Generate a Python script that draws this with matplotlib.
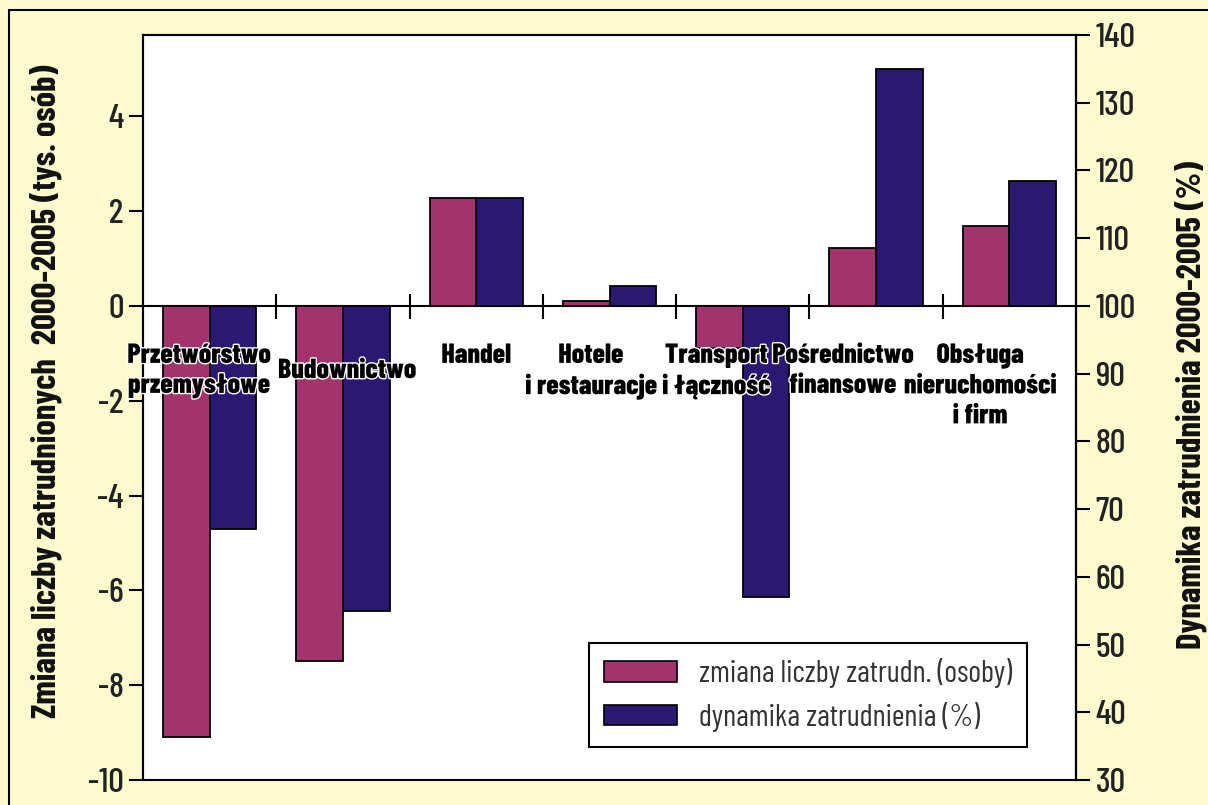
import numpy as np
import matplotlib
matplotlib.use("Agg")
import matplotlib.pyplot as plt
import matplotlib.patheffects as pe
from matplotlib.patches import Rectangle, Patch

# ---- data ----
categories = [
    "Przetwórstwo\nprzemysłowe",
    "Budownictwo",
    "Handel",
    "Hotele\ni restauracje",
    "Transport\ni łączność",
    "Pośrednictwo\nfinansowe",
    "Obsługa\nnieruchomości\ni firm",
]
zmiana = [-9.1, -7.5, 2.27, 0.1, -0.88, 1.22, 1.68]          # tys. osób (left axis)
dynamika = [67.0, 55.0, 116.0, 103.0, 57.0, 135.0, 118.5]     # % (right axis)

# label placement tweaks (category units / left-axis units)
label_dx = [-0.08, 0.03, 0.0, -0.14, -0.2, -0.25, -0.22]
label_dy = [0.0, -0.32, 0.0, 0.0, 0.0, 0.0, 0.0]

C_PINK = "#A3336C"
C_NAVY = "#2B1872"
BG = "#FFFACD"
NARROW = ["Barlow Condensed", "Archivo Narrow", "DejaVu Sans"]

plt.rcParams["font.family"] = NARROW
plt.rcParams["axes.unicode_minus"] = False

fig = plt.figure(figsize=(12.08, 8.05), dpi=100, facecolor=BG)
W, H = 1208, 805
ax = fig.add_axes([143 / W, 1 - 780 / H, (1076 - 143) / W, (780 - 35) / H])
ax2 = ax.twinx()

x = np.arange(len(categories))
bw = 0.35
ax.bar(x - bw / 2, zmiana, bw, color=C_PINK, edgecolor="black", lw=1.3, zorder=3)
ax2.bar(x + bw / 2, np.array(dynamika) - 100, bw, bottom=100, color=C_NAVY,
        edgecolor="black", lw=1.3, zorder=3)

ax.set_xlim(-0.5, len(categories) - 0.5)
ax.set_ylim(-10, 40 / 7)
ax2.set_ylim(30, 140)
ax.set_yticks(np.arange(-10, 5, 2))
ax2.set_yticks(np.arange(30, 141, 10))

# category axis crossing at zero, ticks between groups
ax.spines["bottom"].set_position(("data", 0))
ax.set_xticks(np.arange(0.5, len(categories) - 0.5))
ax.set_xticklabels([])
ax.tick_params(axis="x", direction="inout", length=18, width=1.5)
for a in (ax, ax2):
    a.tick_params(axis="y", direction="out", length=10, width=1.5, labelsize=25,
                  labelcolor="#222222", pad=4)
    for t in a.get_yticklabels():
        t.set_fontweight(500)
for s in ax.spines.values():
    s.set_linewidth(1.5)
for s in ["left", "bottom", "top"]:
    ax2.spines[s].set_visible(False)
ax2.spines["right"].set_linewidth(1.5)
ax.add_patch(Rectangle((0, 0), 1, 1, transform=ax.transAxes, fill=False,
                       lw=1.5, ec="black", zorder=5, clip_on=False))

halo = [pe.withStroke(linewidth=2, foreground="white")]
for i, lab in enumerate(categories):
    ax2.text(x[i] + label_dx[i], 100 + 7 * (-0.78 + label_dy[i]), lab,
             ha="center", va="top", multialignment="center", fontsize=20,
             fontweight=800, linespacing=1.25, color="black",
             path_effects=halo, zorder=6)

ax.set_ylabel("Zmiana liczby zatrudnionych  2000-2005 (tys. osób)",
              fontsize=25, fontweight="bold", color="#111111")
ax.yaxis.set_label_coords(-0.087, 0.522)
ax2.set_ylabel("Dynamika zatrudnienia 2000-2005 (%)", fontsize=25,
               fontweight="bold", color="#111111", rotation=90)
ax2.yaxis.set_label_coords(1.106, 0.503)

handles = [Patch(facecolor=C_PINK, edgecolor="black", lw=1.2),
           Patch(facecolor=C_NAVY, edgecolor="black", lw=1.2)]
leg = ax2.legend(handles, ["zmiana liczby zatrudn. (osoby)", "dynamika zatrudnienia (%)"],
                 loc="lower right", bbox_to_anchor=(0.9475, 0.044), fontsize=22,
                 frameon=True, fancybox=False, edgecolor="black", framealpha=1,
                 handlelength=2.4, handleheight=0.65, handletextpad=0.7,
                 labelspacing=0.45, borderpad=0.5, borderaxespad=0)
leg.get_frame().set_linewidth(1.5)
for t in leg.get_texts():
    t.set_color("#333333")

# outer frame (cropped at right/bottom in the reference)
fig.add_artist(Rectangle((9 / W, -0.1), 1.2, 1.1 - 10 / H, transform=fig.transFigure,
                         fill=False, lw=1.5, ec="black"))

fig.savefig("out.png", dpi=100, facecolor=BG)
